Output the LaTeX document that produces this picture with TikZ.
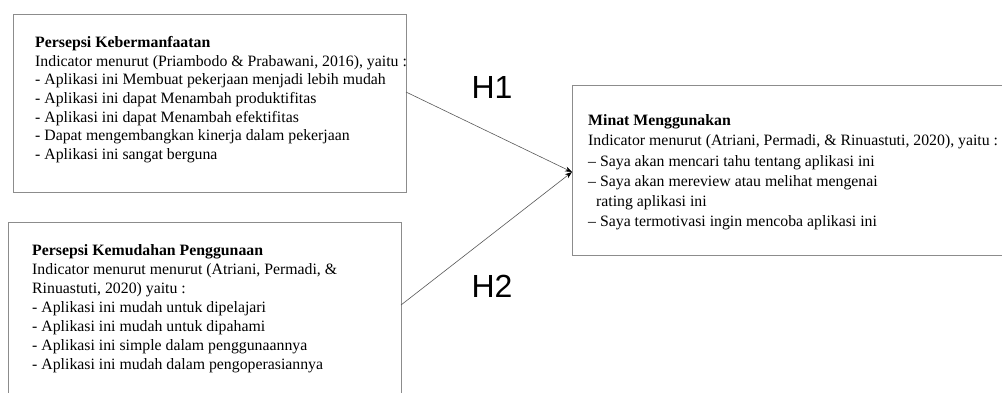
\documentclass[tikz,border=0pt]{standalone}
\usepackage{fontspec}
\setmainfont{Liberation Serif}
\newfontfamily\hfont{Liberation Sans}
\usetikzlibrary{arrows.meta}

\tikzset{
  box/.style={draw=black!45, line width=0.8pt, inner sep=0pt, outer sep=0pt, anchor=north west},
  boxtext/.style={align=left, inner sep=0pt, anchor=north west, font=\fontsize{15.8}{18.6}\selectfont},
  arrowline/.style={draw=black!65, line width=0.6pt, -{Stealth[length=7pt, width=5pt, black]}},
  hyp/.style={font=\hfont\fontsize{32}{32}\selectfont}
}

\begin{document}
\begin{tikzpicture}[x=1pt, y=-1pt]
\useasboundingbox (0,0) rectangle (1002,392);

% Boxes
\node[box, minimum width=393pt, minimum height=178pt] (manfaat) at (13,14) {};
\node[box, minimum width=393pt, minimum height=188pt] (mudah) at (8,222) {};
\node[box, minimum width=440pt, minimum height=170pt] (minat) at (572,85) {};

% Texts
\node[boxtext] (manfaatText) at (35,36.3) {\textbf{Persepsi Kebermanfaatan}\\
Indicator menurut (Priambodo \& Prabawani, 2016), yaitu :\\
- Aplikasi ini Membuat pekerjaan menjadi lebih mudah\\
- Aplikasi ini dapat Menambah produktifitas\\
- Aplikasi ini dapat Menambah efektifitas\\
- Dapat mengembangkan kinerja dalam pekerjaan\\
- Aplikasi ini sangat berguna};

\node[boxtext, font=\fontsize{15.8}{19.1}\selectfont] (mudahText) at (32,244) {\textbf{Persepsi Kemudahan Penggunaan}\\
Indicator menurut menurut (Atriani, Permadi, \&\\
Rinuastuti, 2020) yaitu :\\
- Aplikasi ini mudah untuk dipelajari\\
- Aplikasi ini mudah untuk dipahami\\
- Aplikasi ini simple dalam penggunaannya\\
- Aplikasi ini mudah dalam pengoperasiannya};

\node[boxtext, font=\fontsize{15.8}{20.3}\selectfont] (minatText) at (588,114.3) {\textbf{Minat Menggunakan}\\
Indicator menurut (Atriani, Permadi, \& Rinuastuti, 2020), yaitu :\\
-- Saya akan mencari tahu tentang aplikasi ini\\
-- Saya akan mereview atau melihat mengenai\\
\ \ rating aplikasi ini\\
-- Saya termotivasi ingin mencoba aplikasi ini};

% Hypotheses
\draw[arrowline] ([yshift=11pt]manfaat.east) -- ([yshift=-2pt]minat.west);
\draw[arrowline] ([yshift=11pt]mudah.east) -- ([yshift=-2pt]minat.west);
\node[hyp] (h1) at (492,87) {H1};
\node[hyp] (h2) at (492,286) {H2};

\end{tikzpicture}
\end{document}
